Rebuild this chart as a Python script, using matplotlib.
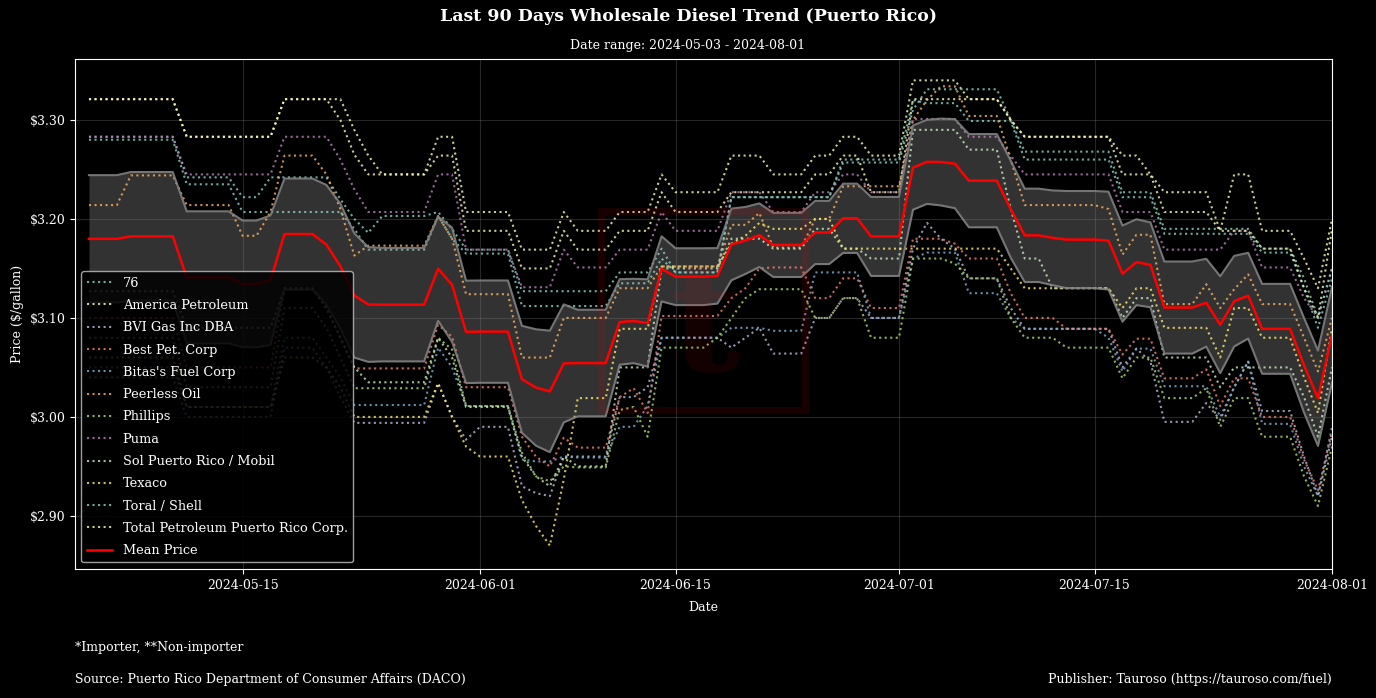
import numpy as np
import pandas as pd
import matplotlib
matplotlib.use("Agg")
import matplotlib.pyplot as plt
from matplotlib.patches import Rectangle
from matplotlib.ticker import FuncFormatter

# Daily wholesale diesel prices 2024-05-04 .. 2024-08-01 (90 days),
# written as (price, number of consecutive days at that price)
p_76 = [(3.283, 7), (3.242, 4), (3.222, 2), (3.242, 5), (3.22, 1), (3.20, 1), (3.186, 1),
        (3.203, 4), (3.207, 1), (3.19, 1), (3.169, 4), (3.127, 7), (3.146, 3), (3.17, 1),
        (3.146, 4), (3.222, 8), (3.260, 5), (3.32, 1), (3.317, 3), (3.299, 4), (3.260, 7),
        (3.222, 3), (3.185, 6), (3.185, 1), (3.166, 3), (3.13, 1), (3.09, 1), (3.14, 1)]
p_america = [(3.321, 7), (3.283, 7), (3.321, 4), (3.300, 1), (3.265, 1), (3.245, 5), (3.283, 2),
             (3.207, 4), (3.169, 3), (3.207, 1), (3.188, 3), (3.207, 3), (3.245, 1), (3.227, 4),
             (3.264, 3), (3.245, 3), (3.264, 2), (3.283, 2), (3.264, 3), (3.340, 4), (3.321, 3),
             (3.300, 1), (3.283, 7), (3.245, 3), (3.207, 4), (3.188, 1), (3.245, 2), (3.188, 3),
             (3.160, 1), (3.130, 1), (3.200, 1)]
p_bvi = [(3.04, 7), (3.00, 7), (3.07, 3), (3.05, 1), (3.02, 1), (2.994, 6), (3.034, 1), (3.00, 1),
         (2.977, 1), (2.99, 3), (2.93, 1), (2.923, 1), (2.92, 1), (2.96, 1), (2.96, 3), (3.02, 1),
         (3.02, 1), (3.03, 1), (3.08, 5), (3.07, 1), (3.08, 1), (3.09, 1), (3.064, 3), (3.10, 2),
         (3.12, 2), (3.10, 3), (3.17, 1), (3.196, 1), (3.18, 1), (3.17, 1), (3.14, 3), (3.11, 1),
         (3.089, 7), (3.05, 1), (3.069, 1), (3.056, 1), (2.995, 3), (3.014, 1), (2.997, 1),
         (3.03, 1), (3.056, 1), (3.006, 3), (2.96, 1), (2.92, 1), (2.98, 1)]
p_best = [(3.10, 7), (3.05, 7), (3.129, 3), (3.11, 1), (3.08, 1), (3.049, 6), (3.093, 1), (3.081, 1),
          (3.030, 4), (2.98, 1), (2.96, 1), (2.95, 1), (2.979, 1), (2.969, 3), (3.02, 1), (3.029, 1),
          (3.004, 1), (3.102, 5), (3.12, 1), (3.13, 1), (3.15, 1), (3.151, 3), (3.12, 2), (3.14, 2),
          (3.11, 3), (3.180, 3), (3.175, 1), (3.160, 3), (3.125, 1), (3.10, 3), (3.089, 4),
          (3.063, 1), (3.079, 2), (3.039, 3), (3.048, 1), (3.011, 1), (3.039, 2), (3.000, 3),
          (2.957, 1), (2.926, 1), (2.984, 1)]
p_bitas = [(3.05, 7), (3.01, 7), (3.08, 3), (3.06, 1), (3.04, 1), (3.012, 6), (3.07, 1), (3.05, 1),
           (3.011, 4), (2.957, 1), (2.955, 1), (2.955, 1), (2.96, 1), (2.959, 3), (2.99, 2),
           (3.011, 1), (3.08, 5), (3.09, 3), (3.087, 3), (3.146, 2), (3.146, 2), (3.10, 3),
           (3.16, 1), (3.166, 3), (3.125, 3), (3.10, 1), (3.089, 6), (3.08, 1), (3.046, 1),
           (3.069, 2), (3.031, 4), (3.00, 1), (3.03, 1), (3.056, 1), (2.993, 3), (2.95, 1),
           (2.92, 1), (2.99, 1)]
p_peerless = [(3.214, 3), (3.244, 4), (3.214, 4), (3.183, 2), (3.207, 1), (3.264, 3), (3.245, 1),
              (3.21, 1), (3.163, 1), (3.173, 5), (3.203, 1), (3.18, 1), (3.124, 4), (3.06, 3),
              (3.10, 1), (3.10, 3), (3.13, 3), (3.152, 1), (3.152, 4), (3.194, 2), (3.206, 1),
              (3.171, 3), (3.20, 2), (3.233, 5), (3.30, 1), (3.32, 1), (3.334, 2), (3.304, 3),
              (3.26, 1), (3.214, 6), (3.21, 1), (3.164, 1), (3.184, 2), (3.114, 3), (3.134, 1),
              (3.11, 1), (3.129, 1), (3.144, 1), (3.114, 3), (3.08, 1), (3.046, 1), (3.10, 1)]
p_phillips = [(3.08, 7), (3.03, 7), (3.110, 3), (3.09, 1), (3.06, 1), (3.029, 6), (3.080, 1),
              (3.068, 1), (3.011, 4), (2.964, 1), (2.94, 1), (2.935, 1), (2.95, 1), (2.949, 3),
              (3.007, 1), (3.01, 1), (2.98, 1), (3.07, 4), (3.08, 1), (3.10, 1), (3.12, 1),
              (3.129, 4), (3.10, 2), (3.12, 2), (3.08, 3), (3.160, 3), (3.155, 1), (3.140, 3),
              (3.10, 1), (3.080, 3), (3.070, 4), (3.039, 1), (3.06, 2), (3.019, 3), (3.029, 1),
              (2.99, 1), (3.019, 2), (2.98, 3), (2.94, 1), (2.91, 1), (2.97, 1)]
p_puma = [(3.283, 7), (3.245, 7), (3.283, 4), (3.26, 1), (3.23, 1), (3.207, 5), (3.245, 2),
          (3.169, 4), (3.131, 3), (3.169, 1), (3.151, 3), (3.169, 3), (3.207, 1), (3.188, 4),
          (3.227, 3), (3.207, 3), (3.227, 2), (3.245, 2), (3.227, 3), (3.301, 4), (3.283, 3),
          (3.264, 1), (3.245, 7), (3.207, 3), (3.169, 5), (3.188, 2), (3.151, 3), (3.12, 1),
          (3.10, 1), (3.15, 1)]
p_sol = [(3.127, 7), (3.09, 7), (3.13, 3), (3.11, 1), (3.08, 1), (3.05, 1), (3.035, 5), (3.08, 1),
         (3.06, 1), (3.01, 4), (2.96, 1), (2.94, 1), (2.93, 1), (2.96, 1), (2.95, 3), (3.05, 1),
         (3.05, 2), (3.15, 5), (3.18, 3), (3.17, 3), (3.19, 2), (3.17, 2), (3.16, 3), (3.29, 4),
         (3.27, 3), (3.21, 1), (3.16, 2), (3.13, 5), (3.10, 1), (3.12, 2), (3.06, 3), (3.06, 1),
         (3.03, 1), (3.05, 2), (3.05, 3), (3.02, 1), (2.98, 1), (3.05, 1)]
p_texaco = [(3.06, 7), (3.01, 7), (3.06, 3), (3.05, 1), (3.03, 1), (3.000, 6), (3.034, 1),
            (3.00, 1), (2.970, 1), (2.960, 3), (2.916, 1), (2.89, 1), (2.870, 1), (2.937, 1),
            (3.019, 3), (3.089, 3), (3.152, 5), (3.175, 1), (3.183, 1), (3.196, 1), (3.19, 3),
            (3.20, 2), (3.17, 12), (3.15, 1), (3.13, 7), (3.11, 1), (3.13, 2), (3.09, 4),
            (3.06, 1), (3.11, 2), (3.08, 3), (3.04, 1), (3.004, 1), (3.09, 1)]
p_toral = [(3.280, 7), (3.235, 4), (3.207, 8), (3.19, 1), (3.169, 5), (3.203, 1), (3.18, 1),
           (3.165, 4), (3.112, 7), (3.135, 3), (3.16, 1), (3.146, 4), (3.222, 8), (3.257, 5),
           (3.31, 1), (3.331, 6), (3.30, 1), (3.268, 7), (3.227, 3), (3.19, 6), (3.19, 1),
           (3.17, 3), (3.14, 1), (3.10, 1), (3.15, 1)]
p_total = [(3.321, 7), (3.283, 7), (3.321, 5), (3.290, 1), (3.264, 1), (3.245, 4), (3.264, 2),
           (3.188, 4), (3.150, 3), (3.188, 1), (3.169, 3), (3.188, 3), (3.227, 1), (3.207, 4),
           (3.227, 6), (3.245, 2), (3.264, 2), (3.227, 3), (3.321, 4), (3.321, 3), (3.30, 1),
           (3.283, 7), (3.264, 1), (3.264, 1), (3.245, 1), (3.227, 4), (3.188, 1), (3.188, 2),
           (3.170, 3), (3.13, 1), (3.10, 1), (3.19, 1)]

companies = ["76", "America Petroleum", "BVI Gas Inc DBA", "Best Pet. Corp", "Bitas's Fuel Corp",
             "Peerless Oil", "Phillips", "Puma", "Sol Puerto Rico / Mobil", "Texaco",
             "Toral / Shell", "Total Petroleum Puerto Rico Corp."]
series = [p_76, p_america, p_bvi, p_best, p_bitas, p_peerless, p_phillips, p_puma,
          p_sol, p_texaco, p_toral, p_total]


def expand(runs):
    return np.repeat([p for p, n in runs], [n for p, n in runs])


dates = pd.date_range("2024-05-04", "2024-08-01", freq="D")
prices = pd.DataFrame({name: expand(r) for name, r in zip(companies, series)}, index=dates)

mean = prices.mean(axis=1)
ci = 1.96 * prices.std(axis=1) / np.sqrt(prices.shape[1])

plt.style.use("dark_background")
plt.rcParams["font.family"] = "DejaVu Serif"
plt.rcParams["font.size"] = 9

fig, ax = plt.subplots(figsize=(13.76, 6.98), dpi=100)
fig.subplots_adjust(left=0.0545, right=0.968, top=0.9155, bottom=0.185)

for name in companies:
    ax.plot(prices.index, prices[name], linestyle=":", linewidth=1.5, alpha=0.8, label=name)

ax.fill_between(dates, mean - ci, mean + ci, color="white", alpha=0.2, linewidth=0)
ax.plot(dates, mean + ci, color="gray", linewidth=1.5, alpha=0.9)
ax.plot(dates, mean - ci, color="gray", linewidth=1.5, alpha=0.9)
ax.plot(dates, mean, color="red", linewidth=1.8, label="Mean Price")

ax.set_xlim(pd.Timestamp("2024-05-03"), pd.Timestamp("2024-08-01"))
ax.set_ylim(2.8465, 3.3616)
ax.set_yticks([2.9, 3.0, 3.1, 3.2, 3.3])
ax.yaxis.set_major_formatter(FuncFormatter(lambda v, _: f"${v:.2f}"))
ticks = pd.to_datetime(["2024-05-15", "2024-06-01", "2024-06-15", "2024-07-01", "2024-07-15", "2024-08-01"])
ax.set_xticks(ticks)
ax.set_xticklabels([t.strftime("%Y-%m-%d") for t in ticks])
ax.grid(True, color="gray", alpha=0.3, linewidth=0.8)
ax.set_xlabel("Date", labelpad=7)
ax.set_ylabel("Price ($/gallon)")

leg = ax.legend(loc="lower left", fontsize=9.3, framealpha=0.85, facecolor="black",
                edgecolor="#bbbbbb", handlelength=2, labelspacing=0.72)

# faint watermark logo
fig.patches.append(Rectangle((0.437, 0.413), 0.148, 0.285, transform=fig.transFigure,
                             fill=False, edgecolor="red", linewidth=5, alpha=0.1))
fig.text(0.512, 0.53, "t", transform=fig.transFigure, fontsize=110, fontweight="bold",
         color="red", alpha=0.08, ha="center", va="center")

fig.suptitle("Last 90 Days Wholesale Diesel Trend (Puerto Rico)", fontsize=12.5,
             fontweight="bold", y=0.988)
fig.text(0.5, 0.935, "Date range: 2024-05-03 - 2024-08-01", ha="center", va="center", fontsize=9)
fig.text(0.0545, 1 - 648 / 698, "*Importer, **Non-importer", va="center", fontsize=9)
fig.text(0.0545, 1 - 679 / 698, "Source: Puerto Rico Department of Consumer Affairs (DACO)",
         va="center", fontsize=9)
fig.text(0.968, 1 - 679 / 698, "Publisher: Tauroso (https://tauroso.com/fuel)",
         va="center", ha="right", fontsize=9)

fig.savefig("out.png", dpi=100, facecolor="black")
